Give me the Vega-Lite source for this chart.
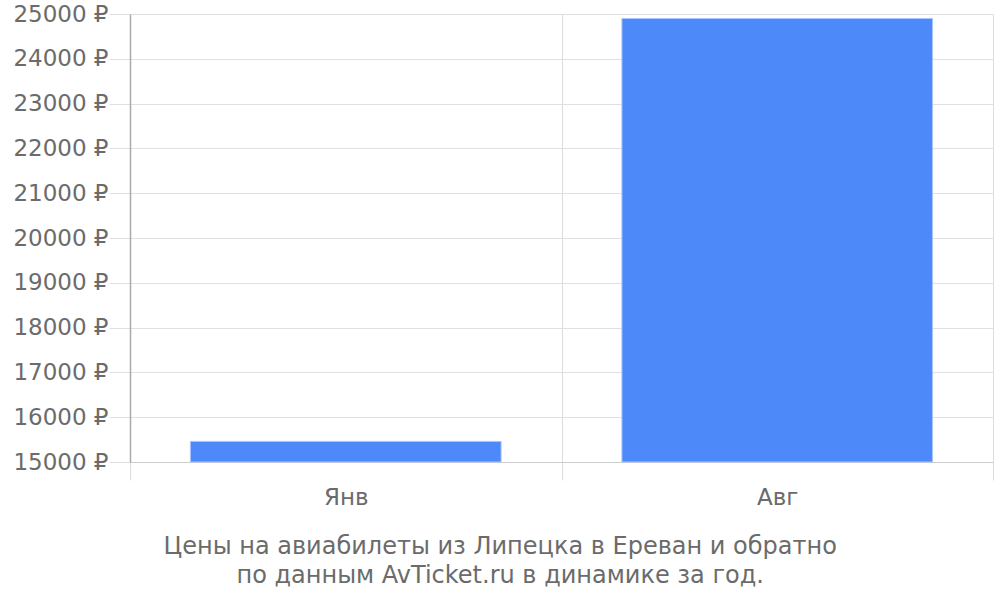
{
  "$schema": "https://vega.github.io/schema/vega-lite/v6.json",
  "width": 863,
  "height": 448,
  "autosize": {"type": "none"},
  "padding": {"left": 130, "top": 14, "right": 7, "bottom": 138},
  "background": "white",
  "data": {"values": [
    {"month": "Янв", "price": 15460},
    {"month": "Авг", "price": 24900}
  ]},
  "title": {
    "text": ["Цены на авиабилеты из Липецка в Ереван и обратно", "по данным AvTicket.ru в динамике за год."],
    "orient": "bottom",
    "anchor": "middle",
    "frame": "bounds",
    "dx": -3,
    "font": "DejaVu Sans",
    "fontSize": 24,
    "fontWeight": "normal",
    "color": "#6b6b6b",
    "offset": 26,
    "lineHeight": 29
  },
  "mark": {"type": "bar", "color": "#4d89f9", "stroke": "#a9c5fb", "strokeWidth": 1, "width": {"band": 0.72}},
  "encoding": {
    "x": {
      "field": "month",
      "type": "nominal",
      "sort": null,
      "scale": {"paddingInner": 0, "paddingOuter": 0},
      "axis": {
        "title": null,
        "labelAngle": 0,
        "tickBand": "extent",
        "grid": true,
        "gridColor": "#dddddd",
        "tickColor": "#dddddd",
        "tickSize": 18,
        "domainColor": "#cccccc",
        "labelFont": "DejaVu Sans",
        "labelFontSize": 23,
        "labelColor": "#6b6b6b",
        "labelPadding": 6
      }
    },
    "y": {
      "field": "price",
      "type": "quantitative",
      "scale": {"domain": [15000, 25000], "zero": false, "nice": false},
      "axis": {
        "title": null,
        "values": [15000, 16000, 17000, 18000, 19000, 20000, 21000, 22000, 23000, 24000, 25000],
        "labelExpr": "format(datum.value, 'd') + ' ₽'",
        "grid": true,
        "gridColor": "#e0e0e0",
        "tickColor": "#e0e0e0",
        "tickSize": 21,
        "domainColor": "#aaaaaa",
        "domainWidth": 1.5,
        "labelFont": "DejaVu Sans",
        "labelFontSize": 23,
        "labelColor": "#6b6b6b",
        "labelPadding": 1
      }
    },
    "y2": {"datum": 15000}
  },
  "config": {"view": {"stroke": null}}
}
